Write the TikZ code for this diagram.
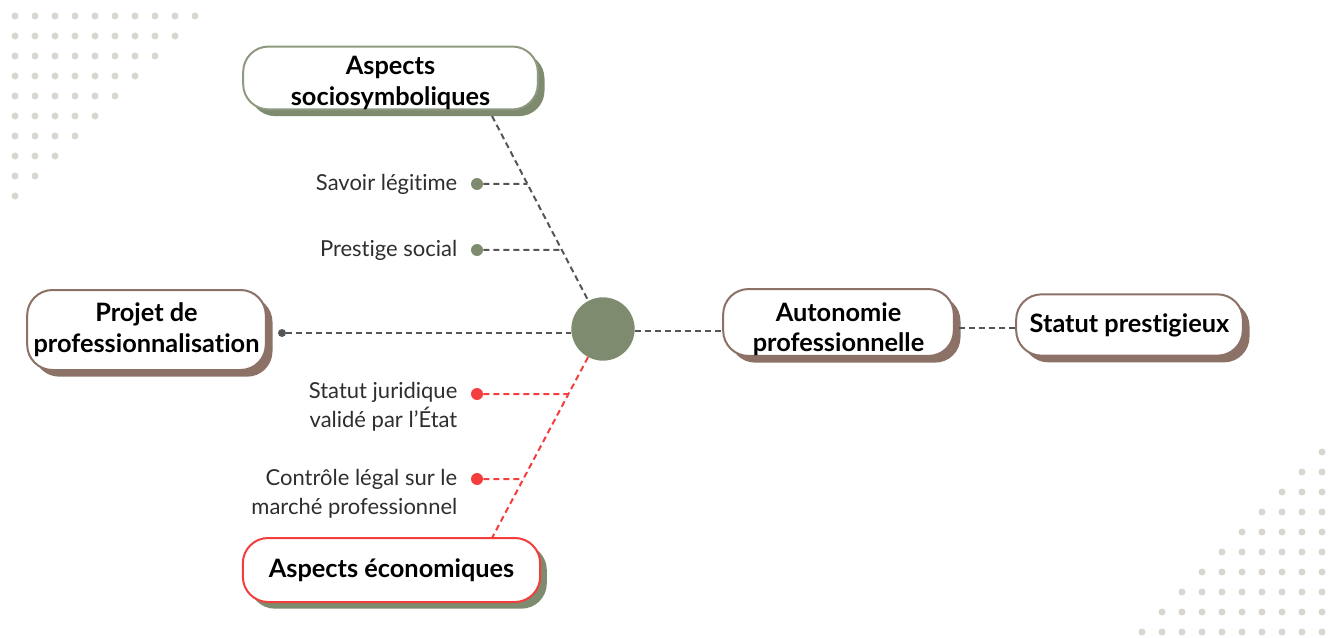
\documentclass[tikz,border=0pt]{standalone}
\usepackage{fontspec}
\setmainfont{Lato}[Ligatures=NoCommon]
\usepackage{xcolor}
\usetikzlibrary{positioning,calc,shadows}
\definecolor{sage}{HTML}{7E8B6E}
\definecolor{sageline}{HTML}{8E9A80}
\definecolor{umber}{HTML}{8B7166}
\definecolor{alert}{HTML}{F43D3D}
\definecolor{dashgray}{HTML}{555555}
\definecolor{dotgray}{HTML}{D9D6D0}
\newcommand{\lowerby}[1]{\rule{0pt}{#1}}
\tikzset{
  every node/.style={
    text=black!80
  },
  box/.style={
    draw, line width=1.5pt, fill=white, rounded corners=19pt,
    align=center, font=\fontsize{19}{23}\selectfont\bfseries,
    text=black, inner sep=0pt
  },
  greenshadow/.style={drop shadow={fill=sage, opacity=1, shadow xshift=5pt, shadow yshift=-5pt}},
  brownshadow/.style={drop shadow={fill=umber, opacity=1, shadow xshift=5pt, shadow yshift=-5pt}},
  conn/.style={dashgray, line width=1.5pt, dash pattern=on 4.5pt off 3pt},
  redconn/.style={conn, alert},
  leaf/.style={circle, inner sep=0pt, minimum size=9pt},
  lbl/.style={align=right, font=\fontsize{16.5}{21.75}\selectfont, text=black!82}
}

\begin{document}
\begin{tikzpicture}[x=0.75pt, y=-0.75pt]
    \useasboundingbox (0,0) rectangle (1336,638);
    % dot corners
    \foreach \k in {0,...,9} {
      \pgfmathtruncatemacro{\last}{9-\k}
      \foreach \i in {0,...,\last}
        \fill[dotgray] (15+20*\i, 16+20*\k) circle (3.5);
    }
    \foreach \k in {0,...,9} {
      \foreach \i in {0,...,\k}
        \fill[dotgray] (1322-20*\i, 452+20*\k) circle (3.5);
    }

    % main nodes
    \node[circle, fill=sage, minimum size=47.5pt, inner sep=0pt] (hub) at (603,329) {};
    \node[box, draw=sageline, greenshadow, minimum width=221pt, minimum height=46.5pt] (socio) at (390.5,78) {\lowerby{21pt}Aspects\\sociosymboliques};
    \node[box, draw=alert, greenshadow, minimum width=223pt, minimum height=48pt] (eco) at (391.5,570) {Aspects économiques};
    \node[box, draw=umber, brownshadow, minimum width=179pt, minimum height=60pt] (proj) at (146.5,330) {Projet de\\professionnalisation};
    \node[box, draw=umber, brownshadow, minimum width=173pt, minimum height=44pt] (auto) at (838.5,322.5) {\lowerby{24pt}Autonomie\\professionnelle};
    \node[box, draw=umber, brownshadow, minimum width=170pt, minimum height=46pt] (stat) at (1129.5,325) {Statut prestigieux};

    \coordinate (socioEnd) at (492,116);
    \coordinate (ecoEnd) at (492,538);

    % leaves
    \node[leaf, fill=sage] (sav) at (477,184) {};
    \node[leaf, fill=sage] (pre) at (477,250) {};
    \node[leaf, fill=alert] (jur) at (477,394) {};
    \node[leaf, fill=alert] (con) at (477,479) {};
    \node[circle, fill=dashgray, inner sep=0pt, minimum size=6pt] (projdot) at (282,333) {};

    \node[lbl, anchor=east] (savtxt) at (462,184) {Savoir légitime};
    \node[lbl, anchor=east] (pretxt) at (462,250) {Prestige social};
    \node[lbl, anchor=east] (jurtxt) at (462,407) {Statut juridique\\validé par l’État};
    \node[lbl, anchor=east] (context) at (462,494) {Contrôle légal sur le\\marché professionnel};

    % connectors
    \draw[conn] (socioEnd) -- (hub);
    \draw[redconn] (hub) -- (ecoEnd);
    \draw[conn] (sav) -- ($(socioEnd)!0.319!(hub.center)$);
    \draw[conn] (pre) -- ($(socioEnd)!0.629!(hub.center)$);
    \draw[redconn] (jur) -- ($(hub.center)!0.311!(ecoEnd)$);
    \draw[redconn] (con) -- ($(hub.center)!0.718!(ecoEnd)$);
    \draw[conn] (projdot) -- (projdot -| hub.west);
    \draw[conn] ($(hub.east)+(0,2)$) -- ($(hub.east -| auto.west)+(0,2)$);
    \draw[conn] ($(auto.east)+(4,5)$) -- ($(auto.east -| stat.west)+(0,5)$);

\end{tikzpicture}
\end{document}
